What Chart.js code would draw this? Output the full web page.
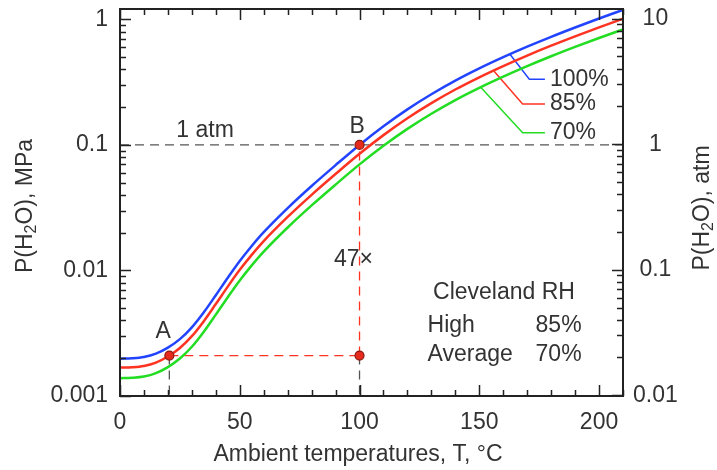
<!DOCTYPE html>
<html>
<head>
<meta charset="utf-8">
<script src="https://cdn.jsdelivr.net/npm/chart.js@4.4.1/dist/chart.umd.min.js"></script>
<style>
  html, body { margin: 0; padding: 0; background: #fff; }
  #wrap { width: 717px; height: 470px; }
</style>
</head>
<body>
<div id="wrap"><canvas id="myChart" width="717" height="470"></canvas></div>
<script>
// temperatures (deg C) and water vapour pressure (MPa) at each relative humidity
var temps = [0, 5, 10, 15, 20, 25, 30, 35, 40, 45, 50, 55, 60, 70, 80, 90, 100, 110, 120, 130, 140, 150, 160, 170, 180, 190, 200, 210];
var rh100 = [0.001982, 0.001995, 0.002042, 0.002173, 0.002427, 0.002838, 0.003524, 0.004645, 0.006353, 0.00875, 0.01189, 0.01567, 0.02018, 0.03141, 0.0471, 0.06902, 0.1000, 0.1408, 0.1919, 0.2532, 0.3251, 0.4069, 0.5000, 0.6061, 0.7261, 0.8619, 1.0163, 1.1899];
var rh85 = [0.001685, 0.001696, 0.001736, 0.001847, 0.002063, 0.002412, 0.002995, 0.003948, 0.0054, 0.007438, 0.01011, 0.01332, 0.01715, 0.0267, 0.04004, 0.05867, 0.0850, 0.1197, 0.1631, 0.2152, 0.2763, 0.3459, 0.4250, 0.5152, 0.6172, 0.7326, 0.8639, 1.0114];
var rh70 = [0.001387, 0.001397, 0.001429, 0.001521, 0.001699, 0.001987, 0.002467, 0.003252, 0.004447, 0.006125, 0.008323, 0.01097, 0.01413, 0.02199, 0.03297, 0.04831, 0.0700, 0.09856, 0.1343, 0.1772, 0.2276, 0.2848, 0.3500, 0.4243, 0.5083, 0.6033, 0.7114, 0.8329];

// marked points A, the 100 C point at the same pressure, and B
var markT = [20.6, 100, 100];
var markP = [0.0021, 0.0021, 0.1];

// leader lines from each curve to its label
var leaderT = [[162.8, 170.9, 177.4], [155.9, 168.1, 177.4], [150.6, 168.1, 177.4]];
var leaderP = [[0.528, 0.334, 0.334], [0.391, 0.212, 0.212], [0.288, 0.125, 0.125]];
var curveLabels = ['100%', '85%', '70%'];

var xTicks = [0, 50, 100, 150, 200];
var yTicksMPa = [0.001, 0.01, 0.1, 1];
var yTicksAtm = [0.01, 0.1, 1, 10];
var MPA_PER_ATM = 0.101325;
var yMin = 0.001, yMax = 1.21;

var blue = '#2244ff', red = '#ff3322', green = '#22dd22';
var ink = '#333333', frame = '#222222';
var FONT = '"Liberation Sans", Arial, sans-serif';

function pts(xs, ys) {
  return xs.map(function (x, i) { return {x: x, y: ys[i]}; });
}

function dashed(a, b, color) {
  return {data: [a, b], borderColor: color, borderWidth: 1.3, borderDash: [9, 6], pointRadius: 0, fill: false};
}

var datasets = [
  {type: 'scatter', data: pts(markT, markP), pointRadius: 4.5, pointBackgroundColor: '#e62a1c', pointBorderColor: '#8a1a10', pointBorderWidth: 1.2},
  {data: pts(temps, rh100), borderColor: blue, borderWidth: 2.5, pointRadius: 0, cubicInterpolationMode: 'monotone'},
  {data: pts(temps, rh85), borderColor: red, borderWidth: 2.5, pointRadius: 0, cubicInterpolationMode: 'monotone'},
  {data: pts(temps, rh70), borderColor: green, borderWidth: 2.5, pointRadius: 0, cubicInterpolationMode: 'monotone'},
  {data: pts(leaderT[0], leaderP[0]), borderColor: blue, borderWidth: 1.5, pointRadius: 0},
  {data: pts(leaderT[1], leaderP[1]), borderColor: red, borderWidth: 1.5, pointRadius: 0},
  {data: pts(leaderT[2], leaderP[2]), borderColor: green, borderWidth: 1.5, pointRadius: 0},
  dashed({x: 0, y: 0.1}, {x: 210, y: 0.1}, '#555555'),
  dashed({x: markT[0], y: markP[0]}, {x: markT[1], y: markP[1]}, red),
  dashed({x: markT[1], y: markP[1]}, {x: markT[2], y: markP[2]}, red),
  dashed({x: markT[0], y: markP[0]}, {x: markT[0], y: yMin}, '#555555'),
  dashed({x: markT[1], y: markP[1]}, {x: markT[1], y: yMin}, '#555555')
];

// text with a subscript part, centred on (x, y), optionally rotated
function richText(ctx, parts, x, y, rot) {
  var big = '23px ' + FONT, small = '16px ' + FONT;
  var w = 0;
  parts.forEach(function (p) { ctx.font = p[1] ? small : big; w += ctx.measureText(p[0]).width; });
  ctx.save();
  ctx.translate(x, y);
  ctx.rotate(rot);
  ctx.textBaseline = 'middle';
  ctx.textAlign = 'left';
  ctx.fillStyle = ink;
  var cx = -w / 2;
  parts.forEach(function (p) {
    ctx.font = p[1] ? small : big;
    ctx.fillText(p[0], cx, p[1] ? 6 : 0);
    cx += ctx.measureText(p[0]).width;
  });
  ctx.restore();
}

var decor = {
  id: 'decor',
  afterDraw: function (chart) {
    var ctx = chart.ctx, a = chart.chartArea;
    var sx = chart.scales.x, sy = chart.scales.y, sy2 = chart.scales.y2;
    ctx.save();
    ctx.strokeStyle = frame;
    ctx.lineWidth = 1.5;
    ctx.beginPath();
    // ticks on bottom and top, pointing inward
    for (var t = 0; t <= 210; t += 10) {
      var px = Math.round(sx.getPixelForValue(t)) + 0.5;
      var len = t % 50 === 0 ? 11 : 6;
      ctx.moveTo(px, a.bottom); ctx.lineTo(px, a.bottom - len);
      ctx.moveTo(px, a.top); ctx.lineTo(px, a.top + len);
    }
    // log ticks on left (MPa) and right (atm)
    [[sy, a.left, 1, yTicksMPa], [sy2, a.right, -1, yTicksAtm]].forEach(function (s) {
      var sc = s[0];
      s[3].forEach(function (d) {
        for (var k = 1; k <= 9; k++) {
          var v = d * k;
          if (v < sc.min - 1e-12 || v > sc.max) continue;
          var py = Math.round(sc.getPixelForValue(v)) + 0.5;
          var l = k === 1 ? 11 : 6;
          ctx.moveTo(s[1], py); ctx.lineTo(s[1] + s[2] * l, py);
        }
      });
    });
    ctx.stroke();
    ctx.lineWidth = 2;
    ctx.strokeRect(a.left, a.top, a.right - a.left, a.bottom - a.top);

    // annotations
    ctx.fillStyle = ink;
    ctx.font = '23px ' + FONT;
    ctx.textBaseline = 'middle';
    function put(txt, t, p, align) {
      ctx.textAlign = align || 'center';
      ctx.fillText(txt, sx.getPixelForValue(t), sy.getPixelForValue(p));
    }
    put('1 atm', 35.5, 0.129);
    put('B', 99, 0.139);
    put('A', 18, 0.00324);
    put('47\u00d7', 97.5, 0.0121);
    put('Cleveland RH', 130.7, 0.0066, 'left');
    put('High', 128.4, 0.00363, 'left');
    put('85%', 173.5, 0.00363, 'left');
    put('Average', 128.4, 0.00214, 'left');
    put('70%', 173.5, 0.00214, 'left');
    curveLabels.forEach(function (lab, i) {
      put(lab, 179.5, leaderP[i][2], 'left');
    });

    // axis titles
    ctx.textAlign = 'center';
    ctx.fillText('Ambient temperatures, T, \u00b0C', 358, 455);
    richText(ctx, [['P(H', 0], ['2', 1], ['O), MPa', 0]], 26, 206, -Math.PI / 2);
    richText(ctx, [['P(H', 0], ['2', 1], ['O), atm', 0]], 703, 208, -Math.PI / 2);
    ctx.restore();
  }
};

function fixY(width) {
  return function (s) { s.width = width; s.paddingTop = 0; s.paddingBottom = 0; };
}

new Chart(document.getElementById('myChart'), {
  type: 'line',
  data: {datasets: datasets},
  options: {
    responsive: false,
    animation: false,
    events: [],
    layout: {padding: {top: 9, left: 0, right: 0, bottom: 0}},
    plugins: {legend: {display: false}, tooltip: {enabled: false}},
    scales: {
      x: {
        type: 'linear', min: 0, max: 210,
        grid: {display: false, drawTicks: false, tickLength: 0},
        border: {display: false},
        ticks: {padding: 13, color: ink, font: {size: 23, family: FONT}, maxRotation: 0},
        afterBuildTicks: function (s) { s.ticks = xTicks.map(function (v) { return {value: v}; }); },
        afterFit: function (s) { s.height = 74; s.paddingLeft = 0; s.paddingRight = 0; }
      },
      y: {
        type: 'logarithmic', position: 'left', min: yMin, max: yMax,
        grid: {display: false, drawTicks: false, tickLength: 0},
        border: {display: false},
        ticks: {padding: 12, color: ink, font: {size: 23, family: FONT}, callback: function (v) { return String(v); }},
        afterBuildTicks: function (s) { s.ticks = yTicksMPa.map(function (v) { return {value: v}; }); },
        afterFit: fixY(120)
      },
      y2: {
        type: 'logarithmic', position: 'right', min: yMin / MPA_PER_ATM, max: yMax / MPA_PER_ATM,
        grid: {display: false, drawTicks: false, tickLength: 0},
        border: {display: false},
        ticks: {padding: 10, crossAlign: 'center', color: ink, font: {size: 23, family: FONT}, callback: function (v) { return String(v); }},
        afterBuildTicks: function (s) { s.ticks = yTicksAtm.map(function (v) { return {value: v}; }); },
        afterFit: fixY(94)
      }
    }
  },
  plugins: [decor]
});
</script>
</body>
</html>
